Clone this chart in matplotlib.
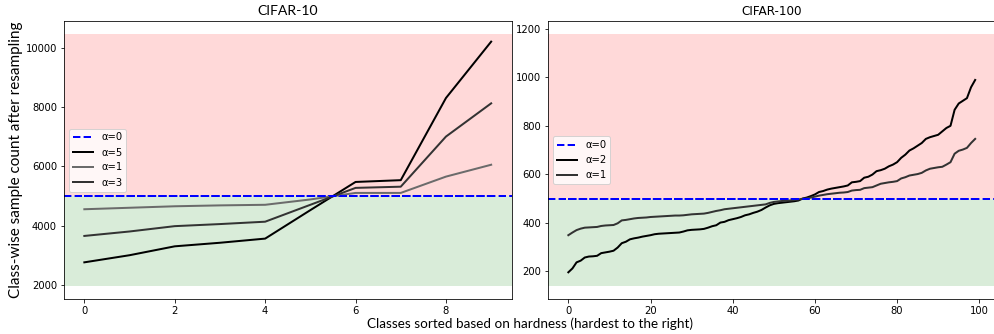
import numpy as np
import matplotlib
matplotlib.use("Agg")
import matplotlib.pyplot as plt

# CIFAR-10: per-class sample counts after resampling (classes sorted by hardness)
c10_classes = list(range(10))
c10_base = 5000
c10_alpha5 = [2760, 3000, 3300, 3420, 3560, 4520, 5470, 5530, 8300, 10200]
c10_alpha1 = [4550, 4600, 4650, 4680, 4700, 4880, 5100, 5100, 5650, 6050]
c10_alpha3 = [3650, 3800, 3980, 4050, 4130, 4700, 5270, 5310, 7000, 8120]
c10_band = (1950, 10470)

# CIFAR-100
c100_classes = list(range(100))
c100_base = 500
c100_alpha2 = [196, 212, 237, 244, 257, 261, 262, 264, 275, 278,
               281, 285, 298, 316, 322, 332, 336, 339, 343, 346,
               349, 353, 355, 356, 357, 358, 359, 360, 364, 369,
               371, 372, 373, 375, 380, 386, 390, 401, 404, 411,
               415, 419, 424, 431, 435, 441, 446, 453, 463, 472,
               478, 481, 483, 485, 487, 489, 492, 500, 504, 510,
               517, 527, 531, 537, 541, 544, 547, 550, 554, 567,
               569, 572, 586, 590, 599, 613, 617, 623, 633, 640,
               650, 668, 681, 698, 707, 718, 729, 746, 753, 758,
               763, 777, 791, 800, 866, 892, 903, 914, 959, 989]
c100_alpha1 = [349, 360, 370, 376, 380, 381, 382, 383, 387, 389,
               390, 391, 398, 410, 412, 415, 418, 420, 421, 422,
               424, 425, 426, 427, 428, 429, 430, 430, 431, 433,
               435, 436, 437, 438, 441, 445, 449, 452, 456, 458,
               460, 462, 464, 466, 468, 470, 472, 474, 476, 482,
               486, 488, 490, 491, 492, 494, 496, 499, 501, 504,
               508, 512, 515, 518, 520, 522, 524, 525, 527, 533,
               535, 536, 543, 545, 547, 554, 561, 564, 567, 569,
               572, 583, 588, 595, 598, 601, 606, 616, 623, 626,
               629, 631, 640, 650, 685, 697, 702, 709, 729, 746]
c100_band = (138, 1180)

W, H = 994, 334
fig = plt.figure(figsize=(W / 72, H / 72), dpi=72)

ax1 = fig.add_axes([64 / W, 35 / H, 447.5 / W, 278 / H])
ax2 = fig.add_axes([548 / W, 35 / H, 447.5 / W, 278 / H])

label_font = ["Lato", "DejaVu Sans"]


def shade(ax, base, band):
    ax.axhspan(band[0], base, color="g", alpha=0.15, lw=0)
    ax.axhspan(base, band[1], color="r", alpha=0.15, lw=0)


# Left panel
shade(ax1, c10_base, c10_band)
ax1.plot(c10_classes, [c10_base] * len(c10_classes), "b--", lw=2, label="α=0")
ax1.plot(c10_classes, c10_alpha5, color="black", lw=2, label="α=5")
ax1.plot(c10_classes, c10_alpha1, color="#6b6b6b", lw=2, label="α=1")
ax1.plot(c10_classes, c10_alpha3, color="#333333", lw=2, label="α=3")
ax1.axhline(c10_base, color="b", ls="--", lw=2)
ax1.set_xticks([0, 2, 4, 6, 8])
ax1.set_yticks([2000, 4000, 6000, 8000, 10000])
ax1.legend(loc="center left", fontsize=10)
ax1.set_title("CIFAR-10", family=label_font, fontsize=14)
ax1.set_ylabel("Class-wise sample count after resampling", family=label_font,
               fontsize=15.3, labelpad=3)

# Right panel
shade(ax2, c100_base, c100_band)
ax2.plot(c100_classes, [c100_base] * len(c100_classes), "b--", lw=2, label="α=0")
ax2.plot(c100_classes, c100_alpha2, color="black", lw=2, label="α=2")
ax2.plot(c100_classes, c100_alpha1, color="#333333", lw=2, label="α=1")
ax2.axhline(c100_base, color="b", ls="--", lw=2)
ax2.legend(loc="center left", fontsize=10)
ax2.set_title("CIFAR-100", fontsize=12)

for ax in (ax1, ax2):
    ax.tick_params(labelsize=10)

fig.text(530 / W, 10 / H, "Classes sorted based on hardness (hardest to the right)",
         family=label_font, fontsize=13.5, ha="center", va="center")

fig.savefig("out.png", dpi=72)
